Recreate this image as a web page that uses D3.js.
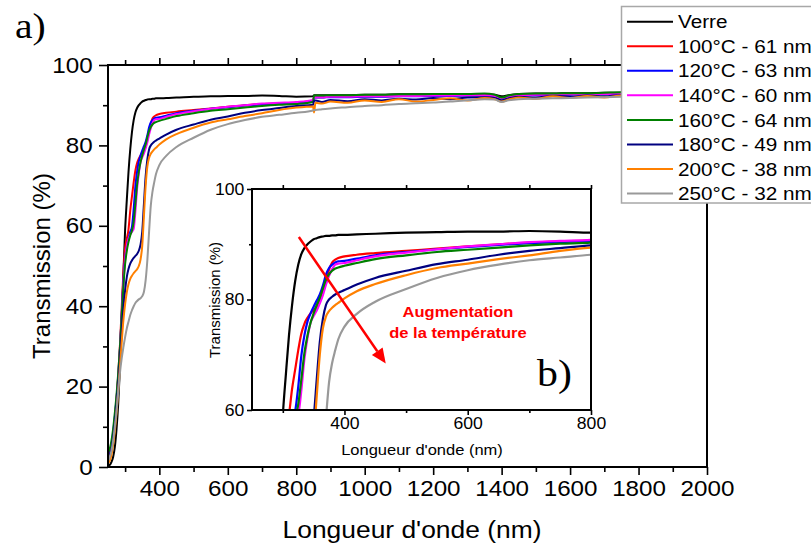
<!DOCTYPE html>
<html><head><meta charset="utf-8">
<script src="https://cdn.jsdelivr.net/npm/d3@7"></script>
<style>
body{margin:0;background:#fff;}
svg{display:block;font-family:Arial,"Liberation Sans",sans-serif;}
</style>
</head><body>
<svg id="c" width="811" height="551"></svg>
<script>
// ---------- DATA ----------
const wl = [250,255,260,265,270,275,280,285,290,295,300,305,310,315,320,325,330,335,340,345,350,355,360,365,370,375,380,385,390,
  400,420,450,500,550,600,650,700,750,800,
  849,
  852,856,875,900,950,1000,1050,1100,1150,1200,1250,1300,1350,1380,1400,1420,1450,1500,1550,1600,1650,1700,1750,1800,1900,2000];

const seriesNames = ["Verre","100°C - 61 nm","120°C - 63 nm","140°C - 60 nm","160°C - 64 nm","180°C - 49 nm","200°C - 38 nm","250°C - 32 nm"];
const seriesColors = ["#000000","#ff0000","#0000ff","#ff00ff","#008000","#000080","#ff8000","#999999"];

const verre = [0.3,0.5,1.2,2.5,5,9.5,16,25,36,48,59,66.5,73.5,79,83.3,86.3,88.2,89.3,90,90.5,90.9,91.1,91.3,91.4,91.5,91.5,91.6,91.6,91.7,
  91.7,91.8,91.9,92.1,92.2,92.3,92.3,92.4,92.3,92.1,
  92.2,
  92.5,92.5,92.5,92.5,92.5,92.6,92.6,92.7,92.7,92.7,92.8,92.8,92.8,92.6,92.2,92.5,92.8,92.9,92.9,93.0,93.0,93.1,93.1,93.2,93.2,93.3];
const t100 = [2,3,5,8,12,17,23,30.5,39.5,48.5,54.5,56.8,59.2,63.8,67.3,70.8,73.8,75.6,76.7,77.5,78.1,78.7,79.7,81.5,83.5,85.4,86.7,87.2,87.5,
  87.8,88.1,88.4,88.8,89.2,89.6,90.0,90.3,90.5,90.7,
  91.2,
  91.9,92.0,92.0,92.1,92.1,92.2,92.2,92.3,92.3,92.4,92.4,92.5,92.5,92.3,91.7,92.1,92.5,92.6,92.6,92.7,92.8,92.8,92.9,92.9,93.0,93.1];
const t120 = [2.5,3.5,5.5,8.5,12.5,17,22.5,29.5,38,46.5,52,55,57,58.5,59.8,64.2,69.8,73.5,76,77.5,78.7,79.8,80.9,82.5,84.5,85.7,86.3,86.7,86.9,
  87.0,87.4,88.0,88.6,89.1,89.5,89.9,90.2,90.4,90.6,
  91.0,
  91.8,91.9,91.9,92.0,92.0,92.1,92.1,92.2,92.2,92.3,92.3,92.4,92.4,92.2,91.6,92.0,92.4,92.5,92.5,92.6,92.7,92.7,92.8,92.8,92.9,93.0];
const t140 = [2,3,5,8,12,16.5,22,29,37,45.5,51.5,55,56.8,57.8,58.5,59.2,63.5,69.2,73,75.8,77,78,79.3,80.8,82.7,84.3,85.5,86.3,86.5,
  86.6,87.1,87.8,88.5,89.1,89.6,90.0,90.4,90.6,90.8,
  91.3,
  91.9,92.0,92.0,92.1,92.1,92.2,92.2,92.3,92.3,92.4,92.4,92.5,92.5,92.3,91.7,92.1,92.5,92.6,92.6,92.7,92.8,92.8,92.9,92.9,93.0,93.1];
const t160 = [3.5,4.5,6.5,9.5,13.5,18,23.5,30,37.5,45,50.5,53.8,56,57.6,58.8,61,65.5,70.3,73.5,75.8,77.5,79,80.3,82,83.6,84.6,85.2,85.6,85.8,
  86.1,86.6,87.3,88.0,88.6,89.0,89.4,89.8,90.1,90.3,
  90.8,
  92.4,92.4,92.4,92.5,92.5,92.6,92.6,92.7,92.7,92.8,92.8,92.8,92.9,92.6,91.9,92.4,92.8,92.9,92.9,93.0,93.0,93.1,93.2,93.2,93.3,93.4];
const t180 = [2,3,4.5,7.5,11,15.5,21,27,33.5,39.5,44,47.3,49.3,50.6,51.4,52,52.5,53,53.8,55.3,58.5,65.5,72.3,76.5,79,80,80.5,80.9,81.2,
  81.7,82.7,83.9,85.2,86.4,87.2,88.1,88.8,89.3,89.8,
  90.1,
  91.0,91.2,90.8,91.3,91.0,91.5,91.2,91.6,91.4,91.8,91.5,91.9,92.0,91.8,91.2,91.7,92.1,91.9,92.3,92.1,92.4,92.2,92.5,92.5,92.7,92.8];
const t200 = [1,1.5,3,5.5,9,13.5,19,25,31,36.5,40.5,43.5,45.5,46.8,47.6,48.2,48.7,49.2,50,51.6,55,62.5,70,74.8,76.9,77.9,78.5,79,79.4,
  80.2,81.5,82.8,84.4,85.7,86.5,87.3,88.0,88.8,89.4,
  89.7,
  88.2,90.6,90.4,90.9,90.6,91.2,90.8,91.5,90.9,91.3,91.7,91.2,91.8,91.5,90.9,91.4,91.9,91.6,92.2,91.8,92.3,91.9,92.4,92.3,92.6,92.7];
const t250 = [1.5,2.5,4,6.5,10,14,19,23.5,27,29.8,32.3,34.5,36.2,37.8,39,40,40.8,41.3,41.7,42,42.5,43.6,46.5,51.5,58.5,65,68.5,70.8,72.8,
  75.1,77.4,79.6,81.9,83.9,85.3,86.3,87.1,87.6,88.1,
  88.7,
  88.8,88.8,89.0,89.2,89.5,89.8,90.0,90.3,90.5,90.7,90.9,91.2,91.5,91.4,90.8,91.2,91.5,91.6,91.7,91.8,91.9,92.0,92.1,92.2,92.4,92.5];

const seriesValues = [verre,t100,t120,t140,t160,t180,t200,t250];

const mainXTicks = [400,600,800,1000,1200,1400,1600,1800,2000];
const mainXMinor = [300,500,700,900,1100,1300,1500,1700,1900];
const mainYTicks = [0,20,40,60,80,100];
const mainYMinor = [10,30,50,70,90];
const insXTicks = [400,600,800];
const insXMinor = [300,500,700];
const insYTicks = [60,80,100];
const insYMinor = [70,90];

// ---------- DRAW ----------
const svg = d3.select('#c');
const SX = 1.1;

function txt(x, y, s, size, opts = {}) {
  const t = svg.append('text')
    .attr('transform', `translate(${x},${y}) rotate(${opts.rot||0}) scale(${opts.rot ? 1 : (opts.sx||SX)},1)`)
    .attr('text-anchor', opts.anchor || 'middle')
    .attr('font-size', size)
    .attr('fill', opts.fill || '#000')
    .attr('font-weight', opts.weight || 'normal')
    .text(s);
  if (opts.family) t.attr('font-family', opts.family);
  return t;
}

const data = seriesValues.map((vals, i) => ({
  name: seriesNames[i], color: seriesColors[i],
  pts: wl.map((w, j) => [w, vals[j]])
}));

// Main plot
const x = d3.scaleLinear([250, 2000], [108, 707]);
const y = d3.scaleLinear([0, 100], [467, 65]);

svg.append('clipPath').attr('id','clipMain').append('rect')
  .attr('x', x(250)).attr('y', y(100)).attr('width', x(2000)-x(250)).attr('height', y(0)-y(100));

const line = d3.line().x(d => x(d[0])).y(d => y(d[1])).curve(d3.curveMonotoneX);
svg.append('g').attr('clip-path','url(#clipMain)')
  .selectAll('path').data(data).join('path')
  .attr('d', d => line(d.pts)).attr('fill','none')
  .attr('stroke', d => d.color).attr('stroke-width', 2).attr('stroke-linejoin','round');

function styleAxis(g, fs) {
  g.select('.domain').remove();
  g.selectAll('line').attr('stroke','#000').attr('stroke-width',1.6);
  g.selectAll('text').attr('font-size', fs).attr('fill','#000').attr('font-family','Arial,"Liberation Sans",sans-serif');
}
const bx = svg.append('g').attr('transform',`translate(0,${y(0)})`)
  .call(d3.axisBottom(x).tickValues(mainXTicks).tickSize(8).tickPadding(5).tickFormat(d3.format('d')));
styleAxis(bx, 22);
bx.selectAll('text').attr('transform', `scale(${SX},1)`);
const bxm = svg.append('g').attr('transform',`translate(0,${y(0)})`)
  .call(d3.axisBottom(x).tickValues(mainXMinor).tickSize(5).tickFormat(''));
styleAxis(bxm, 0);
const tx = svg.append('g').attr('transform',`translate(0,${y(100)})`)
  .call(d3.axisTop(x).tickValues(mainXTicks).tickSize(7).tickFormat(''));
styleAxis(tx, 0);
const txm = svg.append('g').attr('transform',`translate(0,${y(100)})`)
  .call(d3.axisTop(x).tickValues(mainXMinor).tickSize(5).tickFormat(''));
styleAxis(txm, 0);
const ly = svg.append('g').attr('transform',`translate(${x(250)},0)`)
  .call(d3.axisLeft(y).tickValues(mainYTicks).tickSize(9).tickPadding(5).tickFormat(d3.format('d')));
styleAxis(ly, 22);
ly.selectAll('text').attr('transform', `scale(${SX},1)`);
const lym = svg.append('g').attr('transform',`translate(${x(250)},0)`)
  .call(d3.axisLeft(y).tickValues(mainYMinor).tickSize(5).tickFormat(''));
styleAxis(lym, 0);

svg.append('rect').attr('x', x(250)).attr('y', y(100)).attr('width', x(2000)-x(250)).attr('height', y(0)-y(100))
  .attr('fill','none').attr('stroke','#000').attr('stroke-width',2);

txt(412, 538, "Longueur d'onde (nm)", 24);
txt(50, 266, "Transmission (%)", 24, {rot: -90});
txt(15, 38, "a)", 36, {anchor:'start', family:'"Liberation Serif","Times New Roman",serif'});

// Inset
const ix = d3.scaleLinear([250, 800], [252, 591]);
const iy = d3.scaleLinear([60, 100], [410, 189]);
svg.append('rect').attr('x', ix(250)).attr('y', iy(100)).attr('width', ix(800)-ix(250)).attr('height', iy(60)-iy(100))
  .attr('fill','#fff');
svg.append('clipPath').attr('id','clipIns').append('rect')
  .attr('x', ix(250)).attr('y', iy(100)).attr('width', ix(800)-ix(250)).attr('height', iy(60)-iy(100));
const iline = d3.line().x(d => ix(d[0])).y(d => iy(d[1])).curve(d3.curveMonotoneX);
svg.append('g').attr('clip-path','url(#clipIns)')
  .selectAll('path').data(data).join('path')
  .attr('d', d => iline(d.pts.filter(p => p[0] <= 850))).attr('fill','none')
  .attr('stroke', d => d.color).attr('stroke-width', 2.2).attr('stroke-linejoin','round');

const ibx = svg.append('g').attr('transform',`translate(0,${iy(60)})`)
  .call(d3.axisBottom(ix).tickValues(insXTicks).tickSize(5).tickPadding(3).tickFormat(d3.format('d')));
styleAxis(ibx, 16);
ibx.selectAll('text').attr('transform', `scale(${SX},1)`);
const ibxm = svg.append('g').attr('transform',`translate(0,${iy(60)})`)
  .call(d3.axisBottom(ix).tickValues(insXMinor).tickSize(3).tickFormat(''));
styleAxis(ibxm, 0);
const itx = svg.append('g').attr('transform',`translate(0,${iy(100)})`)
  .call(d3.axisTop(ix).tickValues(insXTicks.concat(insXMinor)).tickSize(4).tickFormat(''));
styleAxis(itx, 0);
const ily = svg.append('g').attr('transform',`translate(${ix(250)},0)`)
  .call(d3.axisLeft(iy).tickValues(insYTicks).tickSize(5).tickPadding(2).tickFormat(d3.format('d')));
styleAxis(ily, 16);
ily.selectAll('text').attr('transform', `scale(${SX},1)`);
const ilym = svg.append('g').attr('transform',`translate(${ix(250)},0)`)
  .call(d3.axisLeft(iy).tickValues(insYMinor).tickSize(3).tickFormat(''));
styleAxis(ilym, 0);
svg.append('rect').attr('x', ix(250)).attr('y', iy(100)).attr('width', ix(800)-ix(250)).attr('height', iy(60)-iy(100))
  .attr('fill','none').attr('stroke','#000').attr('stroke-width',2);

txt(422, 455, "Longueur d'onde (nm)", 15);
txt(220, 300, "Transmission (%)", 15, {rot: -90});
txt(537, 386, "b)", 38, {anchor:'start', family:'"Liberation Serif","Times New Roman",serif'});

// Arrow annotation (inset data coordinates)
const arrowFrom = [326, 91.3], arrowTo = [467, 68.4];
const ax0 = ix(arrowFrom[0]), ay0 = iy(arrowFrom[1]), ax1 = ix(arrowTo[0]), ay1 = iy(arrowTo[1]);
const ang = Math.atan2(ay1 - ay0, ax1 - ax0);
const headL = 15, headW = 6.5;
const bxp = ax1 - headL*Math.cos(ang), byp = ay1 - headL*Math.sin(ang);
svg.append('line').attr('x1', ax0).attr('y1', ay0).attr('x2', bxp).attr('y2', byp)
  .attr('stroke','#ff0000').attr('stroke-width',2.5);
svg.append('path').attr('d', d3.line()([
  [ax1, ay1],
  [bxp + headW*Math.sin(ang), byp - headW*Math.cos(ang)],
  [bxp - headW*Math.sin(ang), byp + headW*Math.cos(ang)]
]) + 'Z').attr('fill','#ff0000');
txt(458, 317, "Augmentation", 15, {fill:'#ff0000', weight:'bold'});
txt(458, 338, "de la température", 15, {fill:'#ff0000', weight:'bold'});

// Legend
const lg = svg.append('g');
lg.append('rect').attr('x', 621.5).attr('y', 6.5).attr('width', 200).attr('height', 196.5)
  .attr('fill','#fff').attr('stroke','#a8a8a8').attr('stroke-width',1.5);
data.forEach((d, i) => {
  const cy = 21.7 + i * 24.55;
  lg.append('line').attr('x1', 627).attr('x2', 673).attr('y1', cy).attr('y2', cy)
    .attr('stroke', d.color).attr('stroke-width', 2);
  lg.append('text').attr('transform', `translate(678,${cy + 6.6}) scale(1.12,1)`)
    .attr('font-size', 18.5).attr('fill','#000').text(d.name);
});
</script>
</body></html>
